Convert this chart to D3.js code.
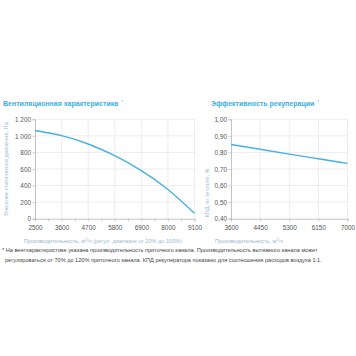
<!DOCTYPE html>
<html><head><meta charset="utf-8">
<script src="https://cdn.jsdelivr.net/npm/d3@7"></script>
<style>
html,body{margin:0;padding:0;background:#fff;}
svg{display:block;font-family:"Liberation Sans",Arial,sans-serif;}
</style></head>
<body><svg id="c" width="356" height="356"></svg>
<script>
// Left chart: fan characteristic
const fanFlow = [2500, 3600, 4700, 5800, 6900, 8000, 9100];
const fanPressure = [1065, 1003, 902, 760, 580, 352, 65];
const fanYTicks = [0, 200, 400, 600, 800, 1000, 1200];
const fanYLabels = ["0", "200", "400", "600", "800", "1 000", "1 200"];
// Right chart: recovery efficiency
const recFlow = [3600, 4450, 5300, 6150, 7000];
const recEff = [0.848, 0.819, 0.790, 0.762, 0.734];
const recYTicks = [0.4, 0.5, 0.6, 0.7, 0.8, 0.9, 1.0];

const titleLeft = "Вентиляционная характеристика";
const titleRight = "Эффективность рекуперации";
const yLabelLeft = "Внешнее статическое давление, Па";
const yLabelRight = "КПД по теплоте, %";
const footnote1 = "* На вентхарактеристике указана производительность приточного канала. Производительность вытяжного канала может";
const footnote2 = "регулироваться от 70% до 120% приточного канала. КПД рекуператора показано для соотношения расходов воздуха 1:1.";

const svg = d3.select("#c");
const blue = "#45b1e1", grid = "#e8e8e8", axisC = "#bdbdbd", tickTxt = "#555";

function panel(o){
  const g = svg.append("g");
  const x = d3.scaleLinear().domain(o.xd).range(o.xr);
  const y = d3.scaleLinear().domain(o.yd).range([218.7, 119.3]);
  g.selectAll(".hg").data(o.yTicks.slice(1)).enter().append("line")
    .attr("x1", o.xr[0]).attr("x2", o.xr[1]).attr("y1", d=>y(d)).attr("y2", d=>y(d))
    .attr("stroke", grid).attr("stroke-width", 0.8);
  g.selectAll(".vg").data(o.xTicks.slice(1)).enter().append("line")
    .attr("x1", d=>x(d)).attr("x2", d=>x(d)).attr("y1", y(o.yd[0])).attr("y2", y(o.yd[1]))
    .attr("stroke", grid).attr("stroke-width", 0.8);
  const ya = d3.axisLeft(y).tickValues(o.yTicks).tickSize(2.5).tickFormat((d,i)=>o.yFmt(d,i));
  const yg = g.append("g").attr("transform",`translate(${o.xr[0]},0)`).call(ya);
  const xa = d3.axisBottom(x).tickValues(o.xMinor).tickSize(2.5).tickFormat(d=> o.xTicks.includes(d) ? d : "");
  const xg = g.append("g").attr("transform",`translate(0,${y(o.yd[0])})`).call(xa);
  [yg, xg].forEach(a=>{
    a.select(".domain").attr("stroke", axisC).attr("stroke-width",0.9);
    a.selectAll(".tick line").attr("stroke", axisC).attr("stroke-width",0.8);
    a.selectAll("text").attr("fill", tickTxt).style("font-size","6.4px").style("font-family","'Liberation Sans',Arial,sans-serif");
  });
  yg.selectAll("text").attr("x", -4).attr("dy","0.34em");
  xg.selectAll("text").attr("y", 6.5).attr("dy","0.71em");
  const pts = o.xs.map((d,i)=>[d, o.ys[i]]);
  g.append("path").datum(pts)
    .attr("d", d3.line().x(d=>x(d[0])).y(d=>y(d[1])).curve(d3.curveNatural))
    .attr("fill","none").attr("stroke", blue).attr("stroke-width",1.4);
  const t = svg.append("text").attr("x", o.tx).attr("y", 106).attr("fill", "#3aaee0")
    .style("font-size","7px").style("font-weight","bold").text(o.title);
  t.append("tspan").attr("dx", 3).attr("dy", -2).attr("fill","#7cc6ea").style("font-size","5.5px").style("font-weight","normal").text("*");
  svg.append("text").attr("transform",`translate(${o.ylx},${o.yly}) rotate(-90)`)
    .attr("text-anchor", o.ylAnchor).attr("fill","#9ab9cf").style("font-size","5.6px").text(o.ylabel);
}

panel({
  xd:[2500,9100], xr:[35,194.5], yd:[0,1200],
  xTicks: fanFlow, xMinor: d3.range(2500, 9101, 550),
  yTicks: fanYTicks, yFmt:(d,i)=>fanYLabels[i],
  xs: fanFlow, ys: fanPressure,
  title: titleLeft, tx: 3,
  ylabel: yLabelLeft, ylx: 8, yly: 169, ylAnchor:"middle"
});
panel({
  xd:[3600,7000], xr:[231,347.5], yd:[0.4,1.0],
  xTicks: recFlow, xMinor: recFlow,
  yTicks: recYTicks, yFmt:(d)=>d3.format(".2f")(d).replace(".",","),
  xs: recFlow, ys: recEff,
  title: titleRight, tx: 211,
  ylabel: yLabelRight, ylx: 208.5, yly: 193, ylAnchor:"middle"
});

const xl = svg.append("text").attr("x", 103).attr("y", 243).attr("text-anchor","middle")
  .attr("fill","#9ab9cf").style("font-size","5.6px");
xl.append("tspan").text("Производительность, м");
xl.append("tspan").attr("dy",-2).style("font-size","3.8px").text("3");
xl.append("tspan").attr("dy",2).text("/ч (регул. диапазон от 20% до 100%)");
const xr = svg.append("text").attr("x", 249).attr("y", 243).attr("text-anchor","middle")
  .attr("fill","#9ab9cf").style("font-size","5.6px");
xr.append("tspan").text("Производительность, м");
xr.append("tspan").attr("dy",-2).style("font-size","3.8px").text("3");
xr.append("tspan").attr("dy",2).text("/ч");

svg.append("text").attr("x",2).attr("y",251.5).attr("fill","#444").style("font-size","5.6px").text(footnote1);
svg.append("text").attr("x",5).attr("y",262).attr("fill","#444").style("font-size","5.6px").text(footnote2);
</script></body></html>
